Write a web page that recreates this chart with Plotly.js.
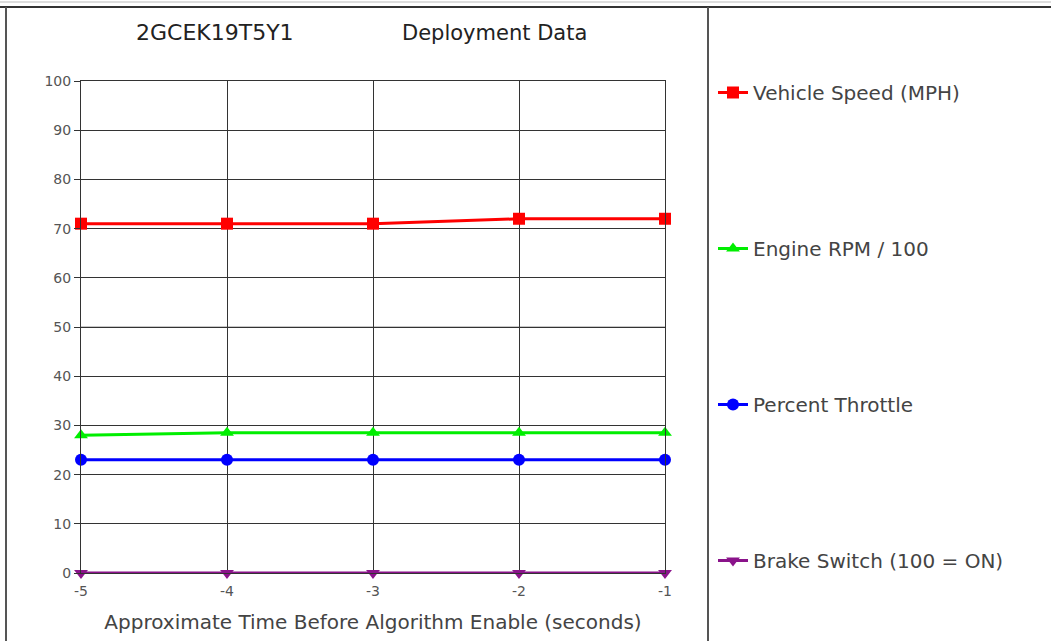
<!DOCTYPE html>
<html>
<head>
<meta charset="utf-8">
<script src="https://cdn.plot.ly/plotly-3.0.1.min.js"></script>
<style>html,body{margin:0;padding:0;background:#fff;}#chart{width:1051px;height:641px;}</style>
</head>
<body>
<div id="chart"></div>
<script>
const timeSec = [-5, -4, -3, -2, -1];
const vehicleSpeed = [71, 71, 71, 72, 72];
const engineRpm100 = [28, 28.5, 28.5, 28.5, 28.5];
const percentThrottle = [23, 23, 23, 23, 23];
const brakeSwitch = [0, 0, 0, 0, 0];
const seriesNames = ["Vehicle Speed (MPH)", "Engine RPM / 100", "Percent Throttle", "Brake Switch (100 = ON)"];
const yTicks = [0, 10, 20, 30, 40, 50, 60, 70, 80, 90, 100];

const FONT = "DejaVu Sans, Liberation Sans, Arial, sans-serif";

function tr(y, name, color, symbol, group) {
  return {
    x: timeSec, y: y, name: name, type: "scatter", mode: "lines+markers",
    line: {color: color, width: 3},
    marker: {color: color, symbol: symbol, size: 12},
    cliponaxis: false, legendgroup: group
  };
}

const data = [
  tr(vehicleSpeed, seriesNames[0], "#ff0000", "square", "a"),
  tr(engineRpm100, seriesNames[1], "#00ee00", "triangle-up", "b"),
  tr(percentThrottle, seriesNames[2], "#0000ff", "circle", "c"),
  tr(brakeSwitch, seriesNames[3], "#8a138a", "triangle-down", "d")
];

// plot area: x 81..665, y 81..573
const L = 81, R = 665, T = 81, B = 573;
const px = v => (v - L) / (R - L);
const py = v => (B - v) / (B - T);

const layout = {
  width: 1051, height: 641,
  margin: {l: L, r: 1051 - R, t: T, b: 641 - B},
  paper_bgcolor: "#ffffff", plot_bgcolor: "#ffffff",
  font: {family: FONT, color: "#333"},
  showlegend: true,
  legend: {
    x: px(713), y: py(73), xanchor: "left", yanchor: "top",
    font: {family: FONT, size: 20, color: "#444"},
    tracegroupgap: 127, traceorder: "grouped",
    bgcolor: "rgba(0,0,0,0)", itemwidth: 30, maxheight: 620
  },
  xaxis: {
    range: [-5, -1], tickvals: timeSec, ticktext: timeSec.map(String),
    showgrid: true, gridcolor: "#333", gridwidth: 1,
    showline: true, mirror: true, linecolor: "#333", linewidth: 1,
    zeroline: false, ticks: "", ticklabelstandoff: 5,
    tickfont: {family: FONT, size: 14, color: "#555"},
    title: {text: "Approximate Time Before Algorithm Enable (seconds)", font: {family: FONT, size: 20, color: "#444"}, standoff: 17}
  },
  yaxis: {
    range: [0, 100], tickvals: yTicks,
    showgrid: true, gridcolor: "#333", gridwidth: 1,
    showline: true, mirror: true, linecolor: "#333", linewidth: 1,
    zeroline: false, ticks: "outside", ticklen: 6, tickcolor: "#333",
    tickfont: {family: FONT, size: 14, color: "#555"}
  },
  annotations: [
    {text: "2GCEK19T5Y1", xref: "paper", yref: "paper", x: px(215), y: py(33), showarrow: false, xanchor: "center", yanchor: "middle", font: {family: FONT, size: 22, color: "#222"}},
    {text: "Deployment Data", xref: "paper", yref: "paper", x: px(494), y: py(33), showarrow: false, xanchor: "center", yanchor: "middle", font: {family: FONT, size: 21, color: "#222"}}
  ],
  shapes: [
    {type: "line", xref: "x", yref: "y", x0: -5, x1: -1, y0: 50, y1: 50, line: {color: "#c8c8c8", width: 2}, layer: "below"},
    {type: "line", xref: "paper", yref: "paper", x0: px(0), x1: px(1051), y0: py(7), y1: py(7), line: {color: "#333", width: 2}},
    {type: "line", xref: "paper", yref: "paper", x0: px(0), x1: px(1051), y0: py(2), y1: py(2), line: {color: "#bbb", width: 1}},
    {type: "line", xref: "paper", yref: "paper", x0: px(6), x1: px(6), y0: py(7), y1: py(641), line: {color: "#555", width: 2}},
    {type: "line", xref: "paper", yref: "paper", x0: px(708), x1: px(708), y0: py(7), y1: py(641), line: {color: "#555", width: 2}}
  ]
};

Plotly.newPlot("chart", data, layout, {displayModeBar: false, staticPlot: true});
</script>
</body>
</html>
